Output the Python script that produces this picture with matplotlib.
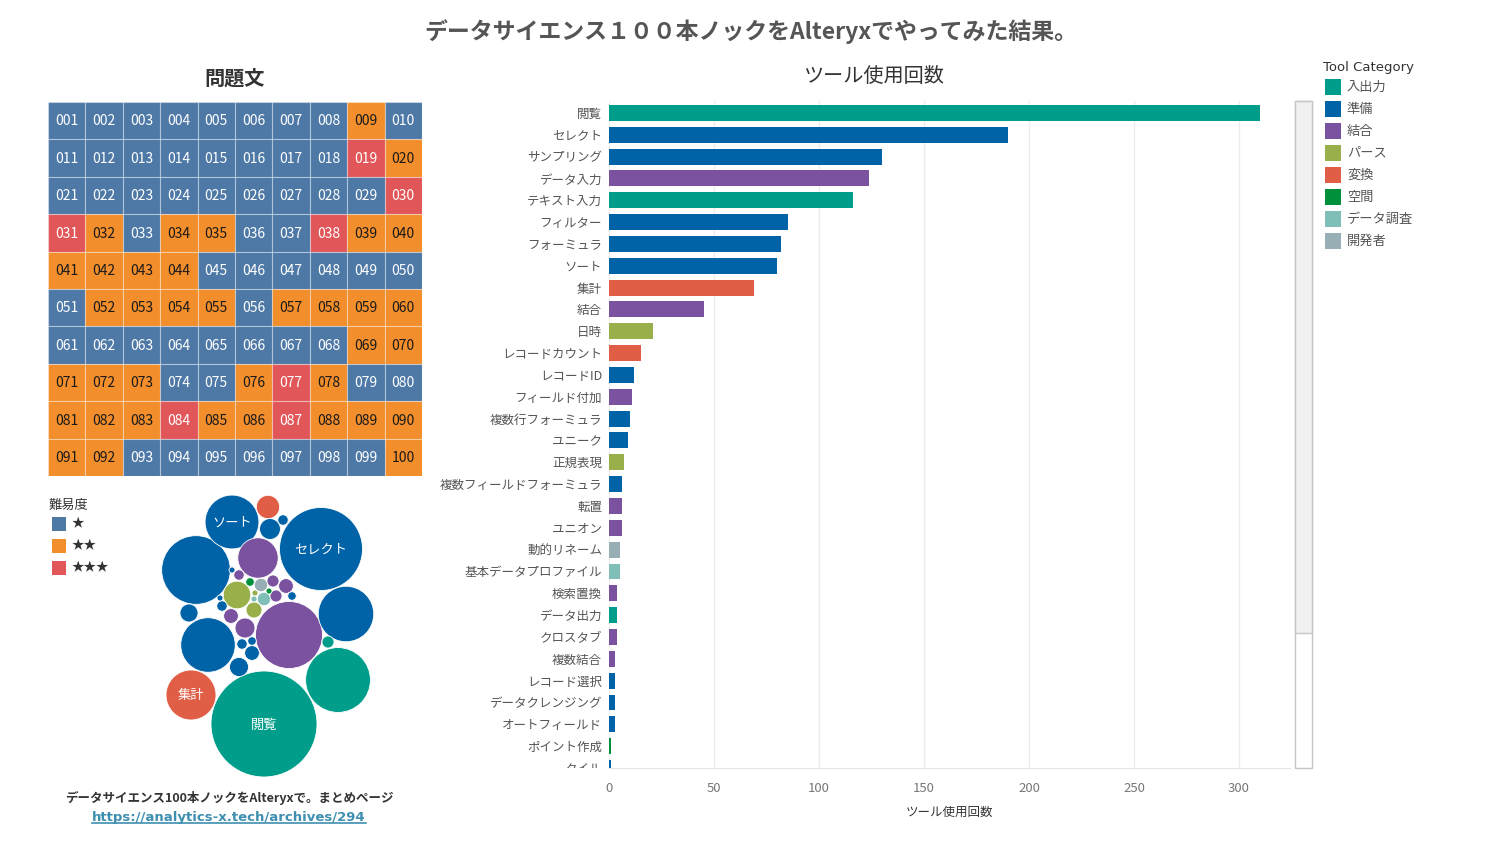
import matplotlib
matplotlib.use("Agg")
import matplotlib.pyplot as plt
from matplotlib.patches import Rectangle, Circle
from matplotlib.lines import Line2D
from matplotlib.transforms import Bbox
import numpy as np

plt.rcParams['font.family'] = ['Noto Sans CJK JP', 'DejaVu Sans']

W, H = 1502, 844

# ============================================================
#  Data
# ============================================================
# difficulty per problem 001-100 (1=★, 2=★★, 3=★★★), one string per row of 10
difficulty_rows = [
    "1111111121",
    "1111111132",
    "1111111113",
    "3212211322",
    "2222111111",
    "1222212222",
    "1111111122",
    "2221123211",
    "2223223222",
    "2211111112",
]
difficulty_labels = ["★", "★★", "★★★"]
difficulty_colors = ["#4E79A7", "#F28E2B", "#E15759"]
difficulty_text = ["white", "#1a1a1a", "white"]

category_names = ["入出力", "準備", "結合", "パース", "変換", "空間", "データ調査", "開発者"]
category_colors = ["#009E8A", "#0063A8", "#7B529F", "#99B04A", "#E15E46", "#008F3A", "#7FBFB8", "#97AFB4"]

tool_names = ["閲覧", "セレクト", "サンプリング", "データ入力", "テキスト入力", "フィルター",
              "フォーミュラ", "ソート", "集計", "結合", "日時", "レコードカウント", "レコードID",
              "フィールド付加", "複数行フォーミュラ", "ユニーク", "正規表現",
              "複数フィールドフォーミュラ", "転置", "ユニオン", "動的リネーム",
              "基本データプロファイル", "検索置換", "データ出力", "クロスタブ", "複数結合",
              "レコード選択", "データクレンジング", "オートフィールド", "ポイント作成", "タイル"]
tool_counts = [310, 190, 130, 124, 116, 85, 82, 80, 69, 45, 21, 15, 12, 11, 10, 9, 7,
               6, 6, 6, 5, 5, 4, 4, 4, 3, 3, 3, 3, 1, 1]
tool_cats = ["入出力", "準備", "準備", "結合", "入出力", "準備", "準備", "準備", "変換", "結合",
             "パース", "変換", "準備", "結合", "準備", "準備", "パース", "準備", "結合", "結合",
             "開発者", "データ調査", "結合", "入出力", "結合", "結合", "準備", "準備", "準備",
             "空間", "準備"]

# packed bubble chart (positions, px)
bubble_counts = [310, 190, 130, 124, 116, 85, 82, 80, 69, 45, 21, 15, 12, 11, 10, 9, 7,
                 6, 6, 6, 5, 5, 4, 4, 4, 3, 3, 3, 3, 2, 2, 1, 1, 2, 1, 1, 1]
bubble_cats = ["入出力", "準備", "準備", "結合", "入出力", "準備", "準備", "準備", "変換", "結合",
               "パース", "変換", "準備", "結合", "準備", "準備", "パース", "準備", "結合", "結合",
               "開発者", "データ調査", "結合", "入出力", "結合", "結合", "準備", "準備", "準備",
               "準備", "準備", "準備", "準備", "空間", "空間", "パース", "データ調査"]
bubble_x = [264, 321, 196, 289, 338, 346, 208, 232, 191, 258, 237, 268, 270, 245, 239, 189, 254,
            252, 231, 286, 261, 264, 276, 328, 273, 239, 283, 222, 242, 252, 292, 232, 220, 250,
            269, 255, 254]
bubble_y = [724, 549, 570, 635, 680, 614, 645, 522, 695, 558, 595, 507, 529, 628, 667, 613, 610,
            653, 616, 586, 585, 599, 596, 642, 581, 575, 520, 606, 644, 641, 596, 570, 598, 582,
            591, 593, 599]
bubble_labels = {0: "閲覧", 1: "セレクト", 7: "ソート", 8: "集計"}

x_ticks = [0, 50, 100, 150, 200, 250, 300]


def box(x0, y0, x1, y1):
    return [x0 / W, 1 - y1 / H, (x1 - x0) / W, (y1 - y0) / H]


def fx(x): return x / W
def fy(y): return 1 - y / H


cat_color = dict(zip(category_names, category_colors))

fig = plt.figure(figsize=(W / 100, H / 100), dpi=100)
fig.patch.set_facecolor("white")

fig.text(fx(751), fy(32), "データサイエンス１００本ノックをAlteryxでやってみた結果。",
         ha="center", va="center", fontsize=16.5, fontweight="bold", color="#555555")

# ============================================================
#  Problem grid
# ============================================================
fig.text(fx(235), fy(78), "問題文", ha="center", va="center", fontsize=14.5,
         fontweight="bold", color="#333333")
axg = fig.add_axes(box(48, 102, 422, 476))
axg.set_xlim(0, 10); axg.set_ylim(10, 0); axg.axis("off")
for r, row in enumerate(difficulty_rows):
    for c, ch in enumerate(row):
        d = int(ch) - 1
        axg.add_patch(Rectangle((c, r), 1, 1, facecolor=difficulty_colors[d],
                                edgecolor=(1, 1, 1, 0.35), linewidth=0.8))
        axg.text(c + 0.5, r + 0.52, f"{r * 10 + c + 1:03d}", ha="center", va="center",
                 fontsize=10, color=difficulty_text[d])

fig.text(fx(49), fy(505), "難易度", ha="left", va="center", fontsize=9.5, color="#333333")
for i, (lab, col) in enumerate(zip(difficulty_labels, difficulty_colors)):
    yc = 524 + i * 22
    fig.patches.append(Rectangle((fx(52), fy(yc + 7)), 14 / W, 14 / H, facecolor=col,
                                 transform=fig.transFigure, figure=fig))
    fig.text(fx(72), fy(yc), lab, ha="left", va="center", fontsize=9, color="#333333")

# ============================================================
#  Packed bubbles
# ============================================================
axb = fig.add_axes(box(150, 488, 390, 782))
axb.set_xlim(150, 390); axb.set_ylim(782, 488); axb.axis("off")
r_scale = 53.0 / np.sqrt(310)
for i, (v, cat, x, y) in enumerate(zip(bubble_counts, bubble_cats, bubble_x, bubble_y)):
    axb.add_patch(Circle((x, y), r_scale * np.sqrt(v), facecolor=cat_color[cat],
                         edgecolor="white", linewidth=0.6))
    if i in bubble_labels:
        axb.text(x, y + 1, bubble_labels[i], ha="center", va="center", fontsize=9.5, color="white")

fig.text(fx(229), fy(798), "データサイエンス100本ノックをAlteryxで。まとめページ",
         ha="center", va="center", fontsize=9, fontweight="bold", color="#333333")
link = fig.text(fx(229), fy(818), "https://analytics-x.tech/archives/294", ha="center",
                va="center", fontsize=9.5, fontweight="bold", color="#3E8FB0",
                family="DejaVu Sans")

# ============================================================
#  Bar chart
# ============================================================
fig.text(fx(873), fy(77), "ツール使用回数", ha="center", va="center", fontsize=14.5, color="#333333")
axr = fig.add_axes(box(609, 101, 1290, 768))
ypos = np.arange(len(tool_names))
axr.barh(ypos, tool_counts, height=0.73, color=[cat_color[c] for c in tool_cats], zorder=2)
axr.set_xlim(0, 681 / 2.1)
axr.set_ylim((768 - 113) / 22, -12 / 22)
axr.set_yticks(ypos)
axr.set_yticklabels(tool_names, fontsize=9, color="#555555")
axr.set_xticks(x_ticks)
axr.set_xticklabels([str(t) for t in x_ticks], fontsize=9.5, color="#777777")
axr.tick_params(length=0)
axr.tick_params(axis="y", pad=5)
axr.tick_params(axis="x", pad=10)
axr.grid(axis="x", color="#ececec", linewidth=1, zorder=0)
axr.set_axisbelow(True)
for s in ["top", "right", "left"]:
    axr.spines[s].set_visible(False)
axr.spines["bottom"].set_color("#e4e4e4")
axr.set_xlabel("ツール使用回数", fontsize=9, color="#333333", labelpad=8)

# labels scroll out of view like the bars do
label_clip = Bbox.from_extents(0, H - 768, 609, H - 101)
for lbl in axr.get_yticklabels():
    lbl.set_clip_box(label_clip)
    lbl.set_clip_on(True)

# scrollbar
fig.patches.append(Rectangle((fx(1295), fy(768)), 17 / W, 667 / H, facecolor="white",
                             edgecolor="#c6c6c6", linewidth=1, transform=fig.transFigure, figure=fig))
fig.patches.append(Rectangle((fx(1295), fy(633)), 17 / W, 532 / H, facecolor="#f0f0f0",
                             edgecolor="#c6c6c6", linewidth=1, transform=fig.transFigure, figure=fig))

# category legend
fig.text(fx(1323), fy(68), "Tool Category", ha="left", va="center", fontsize=9.5,
         color="#333333", family="DejaVu Sans")
for i, (lab, col) in enumerate(zip(category_names, category_colors)):
    yc = 87 + i * 22
    fig.patches.append(Rectangle((fx(1325), fy(yc + 8)), 16 / W, 16 / H, facecolor=col,
                                 transform=fig.transFigure, figure=fig))
    fig.text(fx(1347), fy(yc), lab, ha="left", va="center", fontsize=9.5, color="#555555")

# underline for link
fig.canvas.draw()
bb = link.get_window_extent(fig.canvas.get_renderer())
fig.add_artist(Line2D([bb.x0 / W, bb.x1 / W], [(bb.y0 + 1.5) / H, (bb.y0 + 1.5) / H],
                      color="#3E8FB0", linewidth=1.2, transform=fig.transFigure))

fig.savefig("out.png", dpi=100, facecolor="white")
